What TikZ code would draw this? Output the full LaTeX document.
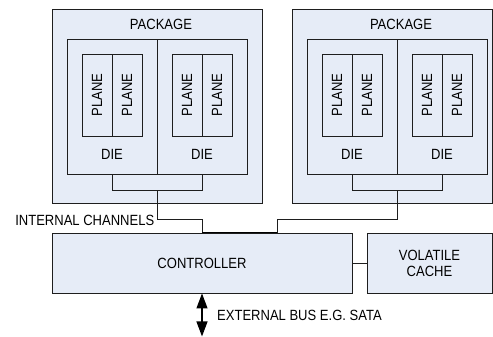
\documentclass[tikz,border=0pt]{standalone}
\usepackage{fontspec}
\setmainfont{Liberation Sans}[FakeStretch=0.88]
\usepackage{tikz}
\usetikzlibrary{arrows.meta,positioning,calc}
\usepackage{xcolor}
\definecolor{boxfill}{HTML}{E6ECF7}
\definecolor{edge}{HTML}{1E1E1E}

\begin{document}
\begin{tikzpicture}[
  x=1pt, y=-1pt,
  every node/.style={font=\fontsize{14.8}{17}\selectfont},
  block/.style={draw=edge, fill=boxfill, line width=0.9pt, inner sep=0pt},
  plane/.style={draw=edge, line width=0.9pt, inner sep=0pt,
    minimum width=30pt, minimum height=82pt},
  wire/.style={draw=edge, line width=0.9pt},
  bus/.style={draw=black, line width=1.6pt},
  extbus/.style={{Triangle[width=11pt,length=15pt]}-{Triangle[width=11pt,length=15pt]}, line width=1.2pt}
]
  \useasboundingbox (0,0) rectangle (493,337);

  % packages
  \node[block, minimum width=210pt, minimum height=194pt] (pkgA) at (157,106) {};
  \node[block, minimum width=200pt, minimum height=194pt] (pkgB) at (392,106) {};
  \node at ($(pkgA.north)+(4,16)$) {PACKAGE};
  \node at ($(pkgB.north)+(9,16)$) {PACKAGE};

  % dies, two per package
  \foreach \d/\x in {dieA1/112, dieA2/202, dieB1/352, dieB2/442} {
    \node[block, minimum width=90pt, minimum height=135pt] (\d) at (\x,106.5) {};
    \node at ($(\d.south)+(0,-20)$) {DIE};
    % two planes per die
    \node[plane] (\d p1) at ($(\d.center)+(-15,-11.5)$) {};
    \node[plane] (\d p2) at ($(\d.center)+(15,-11.5)$) {};
    \node[rotate=90] at (\d p1) {PLANE};
    \node[rotate=90] at (\d p2) {PLANE};
  }

  % controller and cache
  \node[block, minimum width=300pt, minimum height=60pt] (ctrl) at (202,263) {CONTROLLER};
  \node[block, minimum width=125pt, minimum height=60pt, align=center] (cache) at (429.5,263)
    {VOLATILE\\[-1pt]CACHE};
  \draw[wire] (ctrl.east) -- (cache.west);

  % internal channels
  \coordinate (jA) at ($(dieA1.south east)+(0,16)$);
  \coordinate (jB) at ($(dieB1.south east)+(0,16)$);
  \coordinate (busL) at (ctrl.north);
  \coordinate (busR) at ($(ctrl.north)+(75,0)$);
  \draw[wire] (dieA1.south) |- (jA) -| (dieA2.south);
  \draw[wire] (dieB1.south) |- (jB) -| (dieB2.south);
  \draw[wire] (jA) -- ++(0,29) -| (busL);
  \draw[wire] (jB) -- ++(0,29) -| (busR);
  \draw[bus] (busL) -- (busR);
  \node[anchor=east, inner sep=0pt] (chlbl) at ($(jA)+(-3,30)$) {INTERNAL CHANNELS};

  % external bus
  \coordinate (busend) at ($(ctrl.south)+(0,43)$);
  \draw[extbus] (ctrl.south) -- (busend);
  \node[anchor=west, inner sep=0pt] (extlbl) at ($(ctrl.south)+(15,22)$) {EXTERNAL BUS E.G. SATA};
\end{tikzpicture}
\end{document}
